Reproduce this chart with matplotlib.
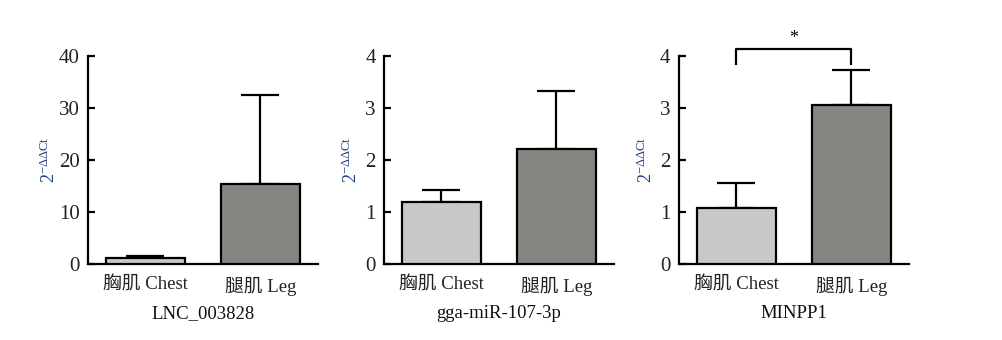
import matplotlib.pyplot as plt

plt.rcParams['font.family'] = ['Liberation Serif', 'Noto Sans CJK SC']
plt.rcParams['mathtext.fontset'] = 'custom'
plt.rcParams['mathtext.rm'] = 'Liberation Serif'
plt.rcParams['mathtext.it'] = 'Liberation Serif'

# Relative expression (2^-ΔΔCt), mean and upper SD per tissue
groups = ['胸肌 Chest', '腿肌 Leg']
genes = ['LNC_003828', 'gga-miR-107-3p', 'MINPP1']
means = [[1.1, 15.4], [1.19, 2.21], [1.08, 3.06]]
errs = [[0.4, 17.1], [0.24, 1.12], [0.47, 0.67]]
ymax = [40, 4, 4]
yticks = [[0, 10, 20, 30, 40], [0, 1, 2, 3, 4], [0, 1, 2, 3, 4]]
colors = ['#C8C8C6', '#858681']

fig = plt.figure(figsize=(10.02, 3.4), dpi=100)
lefts = [0.0878, 0.3832, 0.6776]
ylab_x = [-0.125, -0.10, -0.10]

for i, gene in enumerate(genes):
    ax = fig.add_axes([lefts[i], 0.2235, 0.2295, 0.6126])
    x = [0, 1]
    ax.bar(x, means[i], width=0.68, color=colors, edgecolor='black',
           linewidth=1.6, zorder=3)
    ax.errorbar(x, means[i], yerr=[[0, 0], errs[i]], fmt='none',
                ecolor='black', elinewidth=1.6, capsize=14, capthick=1.6,
                zorder=2)
    ax.set_xlim(-0.5, 1.5)
    ax.set_ylim(0, ymax[i])
    ax.set_yticks(yticks[i])
    ax.set_xticks(x)
    ax.set_xticklabels(groups)
    for s in ['top', 'right']:
        ax.spines[s].set_visible(False)
    for s in ['left', 'bottom']:
        ax.spines[s].set_linewidth(1.6)
    ax.tick_params(axis='y', direction='in', length=5, width=1.6,
                   labelsize=15, pad=6, labelcolor='#222222')
    ax.tick_params(axis='x', length=0, labelsize=13.5, pad=9,
                   labelcolor='#222222')
    ax.set_xlabel(gene, fontsize=13.5, labelpad=7, color='#111111')
    ax.set_ylabel(r'$\mathregular{2^{-\Delta\Delta Ct}}$', fontsize=13,
                  color='#1F3A7A')
    ax.yaxis.set_label_coords(ylab_x[i], 0.5)

    # significance bracket between chest and leg
    if gene == 'MINPP1':
        ax.plot([0, 0, 1, 1], [3.84, 4.13, 4.13, 3.84], color='black',
                lw=1.6, clip_on=False)
        ax.text(0.5, 4.16, '*', ha='center', va='bottom', fontsize=13)

fig.savefig('out.png', dpi=100)
